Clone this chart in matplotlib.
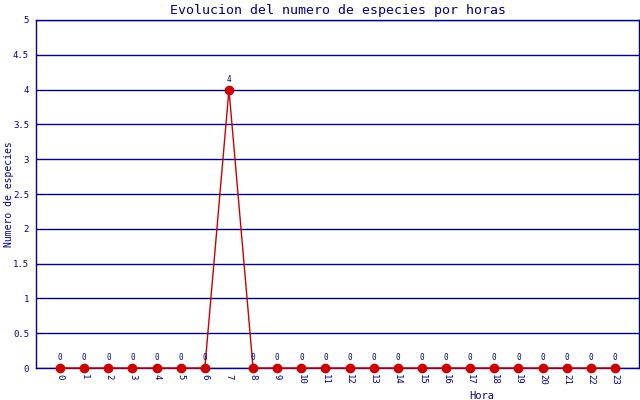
import matplotlib
matplotlib.use("Agg")
import matplotlib.pyplot as plt

horas = list(range(24))
especies = [0, 0, 0, 0, 0, 0, 0, 4, 0, 0, 0, 0, 0, 0, 0, 0, 0, 0, 0, 0, 0, 0, 0, 0]
y_ticks = [0, 0.5, 1, 1.5, 2, 2.5, 3, 3.5, 4, 4.5, 5]
y_labels = ["0", "0.5", "1", "1.5", "2", "2.5", "3", "3.5", "4", "4.5", "5"]

navy = "#000080"
rojo = "#cc0000"
plt.rcParams["font.family"] = "DejaVu Sans Mono"

fig = plt.figure(figsize=(6.4, 4), dpi=100)
ax = fig.add_axes([36 / 640, 1 - 368 / 400, 603 / 640, 348 / 400])

ax.set_xlim(-1, 24)
ax.set_ylim(0, 5)

ax.set_yticks(y_ticks)
ax.set_yticklabels(y_labels)
ax.grid(True, axis="y", color=navy, linewidth=1.0)
ax.set_axisbelow(True)

ax.plot(horas, especies, color=rojo, linewidth=1.0, marker="o",
        markersize=6, markerfacecolor=rojo, markeredgecolor=rojo,
        clip_on=False, zorder=3)

for h, v in zip(horas, especies):
    ax.text(h, v + 0.08, str(v), ha="center", va="bottom",
            fontsize=5.5, color=navy)

ax.set_xticks(horas)
ax.set_xticklabels([str(h) for h in horas], rotation=-90)
ax.tick_params(axis="both", length=0, colors=navy, labelsize=6.5, pad=4)
ax.tick_params(axis="y", pad=5)

for s in ax.spines.values():
    s.set_color(navy)
    s.set_linewidth(1.0)

ax.set_title("Evolucion del numero de especies por horas", color=navy,
             fontsize=9.5, pad=4)
ax.set_ylabel("Numero de especies", color=navy, fontsize=7)
ax.yaxis.set_label_coords(-0.037, 0.5)
ax.set_xlabel("Hora", color=navy, fontsize=7.5)
ax.xaxis.set_label_coords(0.74, -0.065)

fig.savefig("out.png", dpi=100)
